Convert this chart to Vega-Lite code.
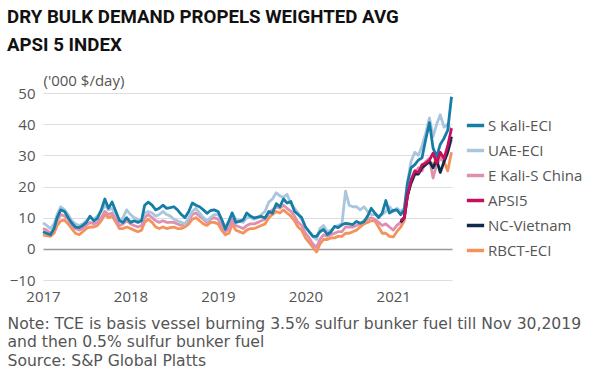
{
  "$schema": "https://vega.github.io/schema/vega-lite/v6.json",
  "width": 409,
  "height": 187,
  "autosize": {"type": "none"},
  "padding": {"left": 43, "top": 93, "right": 148, "bottom": 101},
  "background": "white",
  "title": {
    "text": ["DRY BULK DEMAND PROPELS WEIGHTED AVG", "APSI 5 INDEX"],
    "anchor": "start",
    "frame": "group",
    "font": "Roboto",
    "fontSize": 18.7,
    "fontWeight": "bold",
    "color": "#111111",
    "dx": -36,
    "lineHeight": 28,
    "offset": 18
  },
  "config": {
    "view": {"stroke": null},
    "axis": {
      "labelFont": "Open Sans",
      "labelFontSize": 15,
      "labelColor": "#555555",
      "labelOverlap": false,
      "domain": false,
      "ticks": false,
      "gridWidth": 1
    }
  },
  "data": {"values": [
    {"d": "2017-01-01", "S Kali-ECI": 5.5, "UAE-ECI": 8.3, "E Kali-S China": 6.5, "RBCT-ECI": 4.5},
    {"d": "2017-01-16", "S Kali-ECI": 5, "UAE-ECI": 7.5, "E Kali-S China": 6, "RBCT-ECI": 4.2},
    {"d": "2017-02-01", "S Kali-ECI": 4.5, "UAE-ECI": 6.5, "E Kali-S China": 5, "RBCT-ECI": 4},
    {"d": "2017-02-16", "S Kali-ECI": 6.5, "UAE-ECI": 8, "E Kali-S China": 6.5, "RBCT-ECI": 5},
    {"d": "2017-03-01", "S Kali-ECI": 10, "UAE-ECI": 11, "E Kali-S China": 9, "RBCT-ECI": 7.5},
    {"d": "2017-03-16", "S Kali-ECI": 12.5, "UAE-ECI": 13.5, "E Kali-S China": 11, "RBCT-ECI": 9},
    {"d": "2017-04-01", "S Kali-ECI": 12, "UAE-ECI": 12.5, "E Kali-S China": 10.5, "RBCT-ECI": 9.2},
    {"d": "2017-04-16", "S Kali-ECI": 10, "UAE-ECI": 11, "E Kali-S China": 9.5, "RBCT-ECI": 8},
    {"d": "2017-05-01", "S Kali-ECI": 8.3, "UAE-ECI": 9, "E Kali-S China": 7.5, "RBCT-ECI": 6.5},
    {"d": "2017-05-16", "S Kali-ECI": 7, "UAE-ECI": 8, "E Kali-S China": 6.5, "RBCT-ECI": 5},
    {"d": "2017-06-01", "S Kali-ECI": 6.8, "UAE-ECI": 7.5, "E Kali-S China": 6, "RBCT-ECI": 4.5},
    {"d": "2017-06-16", "S Kali-ECI": 7.5, "UAE-ECI": 8, "E Kali-S China": 6.5, "RBCT-ECI": 5.5},
    {"d": "2017-07-01", "S Kali-ECI": 8.5, "UAE-ECI": 9, "E Kali-S China": 7.5, "RBCT-ECI": 6.5},
    {"d": "2017-07-16", "S Kali-ECI": 10.5, "UAE-ECI": 10, "E Kali-S China": 8.5, "RBCT-ECI": 7},
    {"d": "2017-08-01", "S Kali-ECI": 9, "UAE-ECI": 9.5, "E Kali-S China": 8, "RBCT-ECI": 7},
    {"d": "2017-08-16", "S Kali-ECI": 9.8, "UAE-ECI": 10.5, "E Kali-S China": 8.5, "RBCT-ECI": 7.5},
    {"d": "2017-09-01", "S Kali-ECI": 12.5, "UAE-ECI": 12, "E Kali-S China": 10, "RBCT-ECI": 9},
    {"d": "2017-09-16", "S Kali-ECI": 16, "UAE-ECI": 14, "E Kali-S China": 12, "RBCT-ECI": 11},
    {"d": "2017-10-01", "S Kali-ECI": 13, "UAE-ECI": 12.5, "E Kali-S China": 11, "RBCT-ECI": 10},
    {"d": "2017-10-16", "S Kali-ECI": 15, "UAE-ECI": 13, "E Kali-S China": 11.5, "RBCT-ECI": 10.5},
    {"d": "2017-11-01", "S Kali-ECI": 12, "UAE-ECI": 11, "E Kali-S China": 9.5, "RBCT-ECI": 8.5},
    {"d": "2017-11-16", "S Kali-ECI": 9, "UAE-ECI": 9, "E Kali-S China": 7.5, "RBCT-ECI": 6.5},
    {"d": "2017-12-01", "S Kali-ECI": 8.5, "UAE-ECI": 10, "E Kali-S China": 8, "RBCT-ECI": 6.5},
    {"d": "2017-12-16", "S Kali-ECI": 10, "UAE-ECI": 12.5, "E Kali-S China": 9, "RBCT-ECI": 7},
    {"d": "2018-01-01", "S Kali-ECI": 8.5, "UAE-ECI": 11, "E Kali-S China": 8, "RBCT-ECI": 6.5},
    {"d": "2018-01-16", "S Kali-ECI": 9, "UAE-ECI": 10, "E Kali-S China": 7.5, "RBCT-ECI": 6},
    {"d": "2018-02-01", "S Kali-ECI": 8.5, "UAE-ECI": 9.5, "E Kali-S China": 7, "RBCT-ECI": 5.5},
    {"d": "2018-02-16", "S Kali-ECI": 9, "UAE-ECI": 9, "E Kali-S China": 7.5, "RBCT-ECI": 6},
    {"d": "2018-03-01", "S Kali-ECI": 14, "UAE-ECI": 11.5, "E Kali-S China": 10, "RBCT-ECI": 8.5},
    {"d": "2018-03-16", "S Kali-ECI": 15, "UAE-ECI": 12, "E Kali-S China": 11, "RBCT-ECI": 9.5},
    {"d": "2018-04-01", "S Kali-ECI": 14, "UAE-ECI": 11.5, "E Kali-S China": 10, "RBCT-ECI": 8.5},
    {"d": "2018-04-16", "S Kali-ECI": 12.5, "UAE-ECI": 10.5, "E Kali-S China": 9, "RBCT-ECI": 7},
    {"d": "2018-05-01", "S Kali-ECI": 13, "UAE-ECI": 11, "E Kali-S China": 8.5, "RBCT-ECI": 6.5},
    {"d": "2018-05-16", "S Kali-ECI": 14, "UAE-ECI": 12, "E Kali-S China": 9, "RBCT-ECI": 7},
    {"d": "2018-06-01", "S Kali-ECI": 13, "UAE-ECI": 11, "E Kali-S China": 8.5, "RBCT-ECI": 6.5},
    {"d": "2018-06-16", "S Kali-ECI": 13.2, "UAE-ECI": 10.5, "E Kali-S China": 8.5, "RBCT-ECI": 6.8},
    {"d": "2018-07-01", "S Kali-ECI": 13.5, "UAE-ECI": 9.5, "E Kali-S China": 8.5, "RBCT-ECI": 7},
    {"d": "2018-07-16", "S Kali-ECI": 12.5, "UAE-ECI": 9, "E Kali-S China": 8, "RBCT-ECI": 6.5},
    {"d": "2018-08-01", "S Kali-ECI": 11, "UAE-ECI": 8.5, "E Kali-S China": 7.5, "RBCT-ECI": 6.5},
    {"d": "2018-08-16", "S Kali-ECI": 10, "UAE-ECI": 8, "E Kali-S China": 8, "RBCT-ECI": 7},
    {"d": "2018-09-01", "S Kali-ECI": 12, "UAE-ECI": 10, "E Kali-S China": 9, "RBCT-ECI": 8},
    {"d": "2018-09-16", "S Kali-ECI": 14.7, "UAE-ECI": 12, "E Kali-S China": 11, "RBCT-ECI": 9.5},
    {"d": "2018-10-01", "S Kali-ECI": 14, "UAE-ECI": 13, "E Kali-S China": 11.5, "RBCT-ECI": 10},
    {"d": "2018-10-16", "S Kali-ECI": 13.5, "UAE-ECI": 11.5, "E Kali-S China": 10.5, "RBCT-ECI": 9},
    {"d": "2018-11-01", "S Kali-ECI": 12.5, "UAE-ECI": 10, "E Kali-S China": 9.5, "RBCT-ECI": 8},
    {"d": "2018-11-16", "S Kali-ECI": 11.4, "UAE-ECI": 9, "E Kali-S China": 8.5, "RBCT-ECI": 7.5},
    {"d": "2018-12-01", "S Kali-ECI": 12.3, "UAE-ECI": 10, "E Kali-S China": 9.5, "RBCT-ECI": 8.5},
    {"d": "2018-12-16", "S Kali-ECI": 12.5, "UAE-ECI": 11, "E Kali-S China": 10, "RBCT-ECI": 8.5},
    {"d": "2019-01-01", "S Kali-ECI": 12, "UAE-ECI": 11, "E Kali-S China": 9.5, "RBCT-ECI": 8},
    {"d": "2019-01-16", "S Kali-ECI": 9.5, "UAE-ECI": 9, "E Kali-S China": 7.5, "RBCT-ECI": 6},
    {"d": "2019-02-01", "S Kali-ECI": 6.3, "UAE-ECI": 7, "E Kali-S China": 5.5, "RBCT-ECI": 4.5},
    {"d": "2019-02-16", "S Kali-ECI": 9, "UAE-ECI": 9, "E Kali-S China": 6.5, "RBCT-ECI": 5},
    {"d": "2019-03-01", "S Kali-ECI": 11.5, "UAE-ECI": 11.5, "E Kali-S China": 9.5, "RBCT-ECI": 8},
    {"d": "2019-03-16", "S Kali-ECI": 8.5, "UAE-ECI": 9.5, "E Kali-S China": 7.5, "RBCT-ECI": 6},
    {"d": "2019-04-01", "S Kali-ECI": 8.8, "UAE-ECI": 9, "E Kali-S China": 7, "RBCT-ECI": 5.5},
    {"d": "2019-04-16", "S Kali-ECI": 9.3, "UAE-ECI": 8.5, "E Kali-S China": 6.5, "RBCT-ECI": 5},
    {"d": "2019-05-01", "S Kali-ECI": 11.5, "UAE-ECI": 10, "E Kali-S China": 7.5, "RBCT-ECI": 6},
    {"d": "2019-05-16", "S Kali-ECI": 10.5, "UAE-ECI": 10, "E Kali-S China": 8, "RBCT-ECI": 6.5},
    {"d": "2019-06-01", "S Kali-ECI": 9.9, "UAE-ECI": 9.5, "E Kali-S China": 8, "RBCT-ECI": 6.5},
    {"d": "2019-06-16", "S Kali-ECI": 10.2, "UAE-ECI": 10, "E Kali-S China": 8.5, "RBCT-ECI": 7},
    {"d": "2019-07-01", "S Kali-ECI": 10.4, "UAE-ECI": 11, "E Kali-S China": 9, "RBCT-ECI": 7.5},
    {"d": "2019-07-16", "S Kali-ECI": 9.9, "UAE-ECI": 12, "E Kali-S China": 9.5, "RBCT-ECI": 8},
    {"d": "2019-08-01", "S Kali-ECI": 12, "UAE-ECI": 15, "E Kali-S China": 11.5, "RBCT-ECI": 10},
    {"d": "2019-08-16", "S Kali-ECI": 11.4, "UAE-ECI": 16, "E Kali-S China": 12.5, "RBCT-ECI": 11},
    {"d": "2019-09-01", "S Kali-ECI": 14.5, "UAE-ECI": 18, "E Kali-S China": 13.5, "RBCT-ECI": 12},
    {"d": "2019-09-16", "S Kali-ECI": 13.5, "UAE-ECI": 17, "E Kali-S China": 13, "RBCT-ECI": 11.5},
    {"d": "2019-10-01", "S Kali-ECI": 16, "UAE-ECI": 16.5, "E Kali-S China": 14, "RBCT-ECI": 12.5},
    {"d": "2019-10-16", "S Kali-ECI": 14.7, "UAE-ECI": 17.5, "E Kali-S China": 13, "RBCT-ECI": 11.5},
    {"d": "2019-11-01", "S Kali-ECI": 15.2, "UAE-ECI": 14.5, "E Kali-S China": 12, "RBCT-ECI": 10.5},
    {"d": "2019-11-16", "S Kali-ECI": 12, "UAE-ECI": 13, "E Kali-S China": 10.5, "RBCT-ECI": 9},
    {"d": "2019-12-01", "S Kali-ECI": 11, "UAE-ECI": 11.5, "E Kali-S China": 8.5, "RBCT-ECI": 7},
    {"d": "2019-12-16", "S Kali-ECI": 10, "UAE-ECI": 9.5, "E Kali-S China": 7.5, "RBCT-ECI": 6},
    {"d": "2020-01-01", "S Kali-ECI": 7, "UAE-ECI": 7, "E Kali-S China": 5, "RBCT-ECI": 3.5},
    {"d": "2020-01-16", "S Kali-ECI": 5.5, "UAE-ECI": 5.5, "E Kali-S China": 3.5, "RBCT-ECI": 2},
    {"d": "2020-02-01", "S Kali-ECI": 4, "UAE-ECI": 4, "E Kali-S China": 1.5, "RBCT-ECI": 0.5},
    {"d": "2020-02-16", "S Kali-ECI": 4, "UAE-ECI": 3, "E Kali-S China": 0.5, "RBCT-ECI": -1},
    {"d": "2020-03-01", "S Kali-ECI": 5.5, "UAE-ECI": 6.5, "E Kali-S China": 3, "RBCT-ECI": 1.5},
    {"d": "2020-03-16", "S Kali-ECI": 6.2, "UAE-ECI": 7.5, "E Kali-S China": 4.5, "RBCT-ECI": 3},
    {"d": "2020-04-01", "S Kali-ECI": 4.6, "UAE-ECI": 5.5, "E Kali-S China": 4, "RBCT-ECI": 3},
    {"d": "2020-04-16", "S Kali-ECI": 5.4, "UAE-ECI": 6, "E Kali-S China": 4.5, "RBCT-ECI": 3.5},
    {"d": "2020-05-01", "S Kali-ECI": 7.2, "UAE-ECI": 7, "E Kali-S China": 5, "RBCT-ECI": 3.5},
    {"d": "2020-05-16", "S Kali-ECI": 6.8, "UAE-ECI": 7.5, "E Kali-S China": 5.5, "RBCT-ECI": 4},
    {"d": "2020-06-01", "S Kali-ECI": 7.7, "UAE-ECI": 8, "E Kali-S China": 5.5, "RBCT-ECI": 4},
    {"d": "2020-06-16", "S Kali-ECI": 8.2, "UAE-ECI": 18.5, "E Kali-S China": 7, "RBCT-ECI": 5},
    {"d": "2020-07-01", "S Kali-ECI": 8, "UAE-ECI": 14, "E Kali-S China": 7, "RBCT-ECI": 5},
    {"d": "2020-07-16", "S Kali-ECI": 7.8, "UAE-ECI": 13.5, "E Kali-S China": 7, "RBCT-ECI": 5.5},
    {"d": "2020-08-01", "S Kali-ECI": 8.8, "UAE-ECI": 13.5, "E Kali-S China": 7.5, "RBCT-ECI": 6},
    {"d": "2020-08-16", "S Kali-ECI": 8.2, "UAE-ECI": 12.5, "E Kali-S China": 8, "RBCT-ECI": 7},
    {"d": "2020-09-01", "S Kali-ECI": 8.7, "UAE-ECI": 13.5, "E Kali-S China": 9, "RBCT-ECI": 8},
    {"d": "2020-09-16", "S Kali-ECI": 10.5, "UAE-ECI": 12, "E Kali-S China": 9.5, "RBCT-ECI": 8.5},
    {"d": "2020-10-01", "S Kali-ECI": 13, "UAE-ECI": 11, "E Kali-S China": 10, "RBCT-ECI": 9},
    {"d": "2020-10-16", "S Kali-ECI": 11.5, "UAE-ECI": 11, "E Kali-S China": 9.5, "RBCT-ECI": 9},
    {"d": "2020-11-01", "S Kali-ECI": 10, "UAE-ECI": 10.5, "E Kali-S China": 8.5, "RBCT-ECI": 7},
    {"d": "2020-11-16", "S Kali-ECI": 11.5, "UAE-ECI": 11, "E Kali-S China": 7.5, "RBCT-ECI": 5},
    {"d": "2020-12-01", "S Kali-ECI": 15.5, "UAE-ECI": 12, "E Kali-S China": 8, "RBCT-ECI": 5},
    {"d": "2020-12-16", "S Kali-ECI": 11.5, "UAE-ECI": 13.5, "E Kali-S China": 7, "RBCT-ECI": 4},
    {"d": "2021-01-01", "S Kali-ECI": 12.3, "UAE-ECI": 12, "E Kali-S China": 6, "RBCT-ECI": 3.8},
    {"d": "2021-01-16", "S Kali-ECI": 12.5, "UAE-ECI": 13, "E Kali-S China": 7.5, "RBCT-ECI": 5.5},
    {"d": "2021-02-01", "S Kali-ECI": 11, "UAE-ECI": 12, "E Kali-S China": 8.5, "RBCT-ECI": 7, "NC-Vietnam": 8.5, "APSI5": 9},
    {"d": "2021-02-16", "S Kali-ECI": 12.5, "UAE-ECI": 13, "E Kali-S China": 10, "RBCT-ECI": 9, "NC-Vietnam": 10, "APSI5": 10},
    {"d": "2021-03-01", "S Kali-ECI": 21, "UAE-ECI": 21, "E Kali-S China": 17, "RBCT-ECI": 17, "NC-Vietnam": 17, "APSI5": 17},
    {"d": "2021-03-16", "S Kali-ECI": 26, "UAE-ECI": 28, "E Kali-S China": 22, "RBCT-ECI": 22, "NC-Vietnam": 21, "APSI5": 22},
    {"d": "2021-04-01", "S Kali-ECI": 27, "UAE-ECI": 31, "E Kali-S China": 24, "RBCT-ECI": 25, "NC-Vietnam": 24, "APSI5": 25},
    {"d": "2021-04-16", "S Kali-ECI": 28.5, "UAE-ECI": 30, "E Kali-S China": 26, "RBCT-ECI": 25.5, "NC-Vietnam": 24, "APSI5": 24.5},
    {"d": "2021-05-01", "S Kali-ECI": 29.2, "UAE-ECI": 33, "E Kali-S China": 25, "RBCT-ECI": 26, "NC-Vietnam": 26, "APSI5": 27},
    {"d": "2021-05-16", "S Kali-ECI": 35, "UAE-ECI": 37, "E Kali-S China": 28, "RBCT-ECI": 27, "NC-Vietnam": 27, "APSI5": 27.5},
    {"d": "2021-06-01", "S Kali-ECI": 40.5, "UAE-ECI": 42, "E Kali-S China": 29, "RBCT-ECI": 28, "NC-Vietnam": 28, "APSI5": 28.5},
    {"d": "2021-06-16", "S Kali-ECI": 32.3, "UAE-ECI": 36, "E Kali-S China": 22.7, "RBCT-ECI": 27, "NC-Vietnam": 26, "APSI5": 30.7},
    {"d": "2021-07-01", "S Kali-ECI": 29.6, "UAE-ECI": 40, "E Kali-S China": 27, "RBCT-ECI": 29, "NC-Vietnam": 28.5, "APSI5": 27.5},
    {"d": "2021-07-16", "S Kali-ECI": 33.5, "UAE-ECI": 43, "E Kali-S China": 29, "RBCT-ECI": 30, "NC-Vietnam": 24.5, "APSI5": 31},
    {"d": "2021-08-01", "S Kali-ECI": 35.5, "UAE-ECI": 39, "E Kali-S China": 28, "RBCT-ECI": 28, "NC-Vietnam": 28, "APSI5": 29},
    {"d": "2021-08-16", "S Kali-ECI": 38, "UAE-ECI": 40, "E Kali-S China": 31, "RBCT-ECI": 25, "NC-Vietnam": 31, "APSI5": 33},
    {"d": "2021-09-01", "S Kali-ECI": 48.8, "UAE-ECI": 38, "E Kali-S China": 35, "RBCT-ECI": 31, "NC-Vietnam": 36, "APSI5": 38.7}
  ]},
  "transform": [
    {"fold": ["RBCT-ECI", "E Kali-S China", "UAE-ECI", "S Kali-ECI", "NC-Vietnam", "APSI5"], "as": ["series", "value"]},
    {"filter": "isValid(datum.value)"}
  ],
  "mark": {"type": "line", "strokeWidth": 2.8, "strokeJoin": "round"},
  "encoding": {
    "x": {
      "field": "d",
      "type": "temporal",
      "scale": {"type": "utc", "domain": ["2017-01-01", "2021-09-03"], "nice": false},
      "axis": {
        "format": "%Y",
        "tickCount": {"interval": "year", "step": 1},
        "grid": false,
        "labelFlush": false,
        "labelOverlap": false,
        "labelPadding": 9,
        "title": ["Note: TCE is basis vessel burning 3.5% sulfur bunker fuel till Nov 30,2019", "and then 0.5% sulfur bunker fuel", "Source: S&P Global Platts"],
        "titleX": -36,
        "titleY": 36,
        "titleAlign": "left",
        "titleAnchor": "start",
        "titleBaseline": "top",
        "titleFont": "DejaVu Sans",
        "titleFontSize": 15.6,
        "titleFontWeight": "normal",
        "titleLineHeight": 18.6,
        "titleColor": "#555555"
      }
    },
    "y": {
      "field": "value",
      "type": "quantitative",
      "scale": {"domain": [-10, 50], "nice": false},
      "axis": {
        "values": [-10, 0, 10, 20, 30, 40, 50],
        "labelOverlap": false,
        "labelPadding": 8,
        "gridColor": {"condition": {"test": "datum.value === 0", "value": "#9a9a9a"}, "value": "#dddddd"},
        "gridWidth": {"condition": {"test": "datum.value === 0", "value": 1.3}, "value": 1},
        "title": "('000 $/day)",
        "titleAngle": 0,
        "titleX": 0,
        "titleY": -13,
        "titleAlign": "left",
        "titleBaseline": "middle",
        "titleFont": "Open Sans",
        "titleFontSize": 15,
        "titleFontWeight": "normal",
        "titleColor": "#555555"
      }
    },
    "color": {
      "field": "series",
      "type": "nominal",
      "scale": {
        "domain": ["S Kali-ECI", "UAE-ECI", "E Kali-S China", "APSI5", "NC-Vietnam", "RBCT-ECI"],
        "range": ["#167da6", "#a9c6dd", "#e08fb0", "#c4105e", "#13294b", "#f4925a"]
      },
      "legend": {
        "orient": "none",
        "legendX": 422,
        "legendY": 22,
        "title": null,
        "symbolType": "stroke",
        "symbolStrokeWidth": 3.5,
        "symbolSize": 300,
        "labelFont": "Open Sans",
        "labelFontSize": 15,
        "labelColor": "#555555",
        "labelOffset": 2,
        "rowPadding": 6
      }
    }
  }
}
